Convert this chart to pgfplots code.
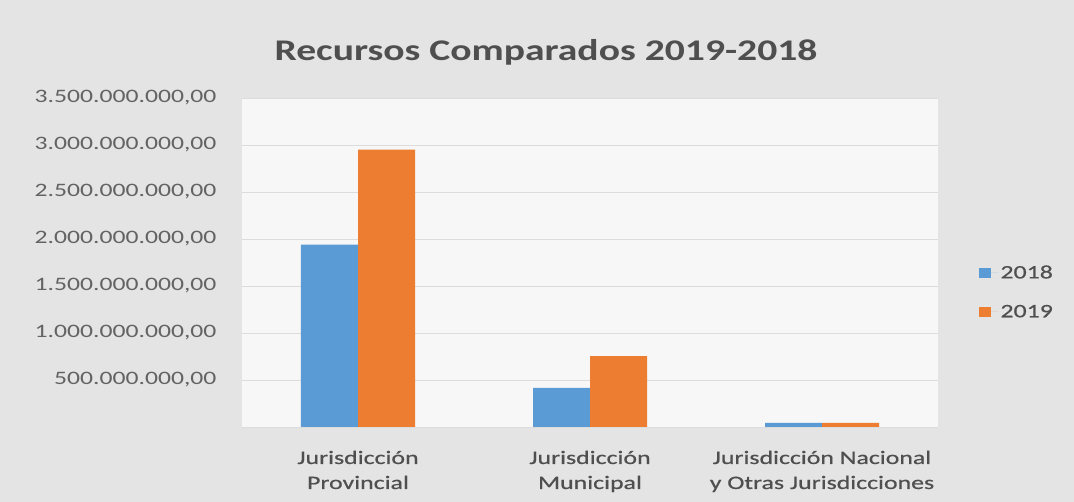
\documentclass[border=0pt]{standalone}
\usepackage{pgfplots}
\pgfplotsset{compat=1.18}
\usepackage{fontspec}
\setmainfont{Carlito}
\newfontfamily\titlefont[FakeStretch=1.32]{Carlito}
\newfontfamily\tickfont[FakeStretch=1.35]{Carlito}
\newfontfamily\catfont[FakeStretch=1.36,FakeBold=0.6]{Carlito}
\definecolor{bg}{HTML}{E4E4E4}
\definecolor{plotbg}{HTML}{F7F7F7}
\definecolor{c18}{HTML}{5B9BD5}
\definecolor{c19}{HTML}{ED7D31}
\definecolor{txt}{HTML}{636363}
\definecolor{cattxt}{HTML}{4F4F4F}
\definecolor{gridc}{HTML}{DCDCDC}
\begin{document}
\begin{tikzpicture}[x=1pt,y=1pt]
\fill[bg] (0,0) rectangle (1074,502);
\useasboundingbox (0,0) rectangle (1074,502);
\node[font=\titlefont\fontsize{30}{36}\selectfont\bfseries, text=cattxt] at (546,450) {Recursos Comparados 2019-2018};
\begin{axis}[
  at={(242pt,75pt)}, anchor=south west,
  scale only axis, width=696pt, height=329pt,
  axis background/.style={fill=plotbg},
  ybar=0pt, bar width=57pt,
  xmin=-0.5, xmax=2.5, ymin=0, ymax=3.5e9,
  scaled y ticks=false,
  xtick={0,1,2},
  xticklabels={{Jurisdicción\\Provincial},{Jurisdicción\\Municipal},{Jurisdicción Nacional\\y Otras Jurisdicciones}},
  xticklabel style={align=center, font=\catfont\fontsize{19}{25}\selectfont, text=cattxt, yshift=-16pt},
  ytick={0,500e6,1000e6,1500e6,2000e6,2500e6,3000e6,3500e6},
  yticklabels={,500.000.000{,}00,1.000.000.000{,}00,1.500.000.000{,}00,2.000.000.000{,}00,2.500.000.000{,}00,3.000.000.000{,}00,3.500.000.000{,}00},
  yticklabel style={font=\tickfont\fontsize{19}{22}\selectfont, text=txt, xshift=-22pt},
  ymajorgrids, grid style={gridc, line width=0.8pt},
  axis line style={draw=none}, tick style={draw=none},
  legend style={at={(1.055,0.41)}, anchor=west, draw=none, fill=none,
    font=\catfont\fontsize{19}{22}\selectfont, text=cattxt, row sep=21pt},
  legend image code/.code={\fill[#1] (0pt,-5pt) rectangle (12pt,5pt); \path (0pt,0pt) -- (19pt,0pt);},
]
\addplot[fill=c18, draw=none] coordinates {(0,1.94e9) (1,0.415e9) (2,0.045e9)};
\addplot[fill=c19, draw=none] coordinates {(0,2.95e9) (1,0.755e9) (2,0.045e9)};
\legend{2018,2019}
\end{axis}
\end{tikzpicture}
\end{document}
